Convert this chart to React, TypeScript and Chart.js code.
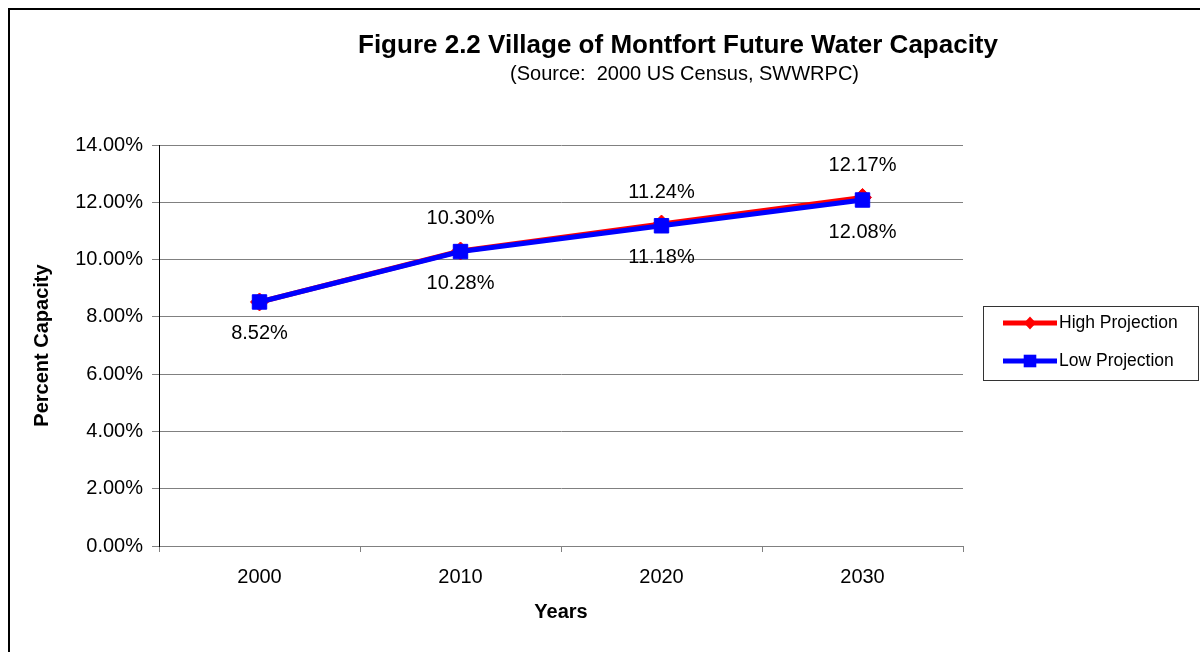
import React, { useEffect, useRef } from 'react';
import { Chart, registerables } from 'chart.js';

Chart.register(...registerables);

const FONT = '"Liberation Sans", Arial, sans-serif';

const categories = ['2000', '2010', '2020', '2030'];
const highProjection = [8.52, 10.3, 11.24, 12.17];
const lowProjection = [8.52, 10.28, 11.18, 12.08];
const seriesNames = ['High Projection', 'Low Projection'];
const yTicks = { min: 0, max: 14, step: 2 };
const titleText = 'Figure 2.2 Village of Montfort Future Water Capacity';
const subtitleText = '(Source:  2000 US Census, SWWRPC)';
const xTitle = 'Years';
const yTitle = 'Percent Capacity';

const fmt = (v: number) => v.toFixed(2) + '%';

const decorPlugin = {
  id: 'decor',
  afterDraw(chart: any) {
    const ctx = chart.ctx as CanvasRenderingContext2D;
    ctx.save();
    // outer border (left & top visible)
    ctx.strokeStyle = '#000';
    ctx.lineWidth = 2;
    ctx.beginPath();
    ctx.moveTo(9, 700);
    ctx.lineTo(9, 9);
    ctx.lineTo(1400, 9);
    ctx.stroke();

    // titles
    ctx.fillStyle = '#000';
    ctx.textAlign = 'center';
    ctx.textBaseline = 'alphabetic';
    ctx.font = `bold 26px ${FONT}`;
    ctx.fillText(titleText, 678, 53);
    ctx.font = `20px ${FONT}`;
    ctx.fillText(subtitleText, 684.5, 80);

    // data labels
    const mh = chart.getDatasetMeta(0);
    const ml = chart.getDatasetMeta(1);
    const dh = chart.data.datasets[0].data as number[];
    const dl = chart.data.datasets[1].data as number[];
    ctx.textBaseline = 'middle';
    ctx.font = `20px ${FONT}`;
    for (let i = 0; i < dl.length; i++) {
      const pl = ml.data[i];
      ctx.fillText(fmt(dl[i]), pl.x, pl.y + 32);
      if (dh[i] !== dl[i]) {
        const ph = mh.data[i];
        ctx.fillText(fmt(dh[i]), ph.x, ph.y - 32);
      }
    }

    // legend
    ctx.strokeStyle = '#333';
    ctx.lineWidth = 1;
    ctx.strokeRect(983.5, 306.5, 215, 74);
    const rows = [323, 361];
    chart.data.datasets.forEach((ds: any, i: number) => {
      const y = rows[i];
      ctx.strokeStyle = ds.borderColor;
      ctx.fillStyle = ds.borderColor;
      ctx.lineWidth = 5;
      ctx.beginPath();
      ctx.moveTo(1003, y);
      ctx.lineTo(1057, y);
      ctx.stroke();
      ctx.beginPath();
      if (ds.pointStyle === 'rectRot') {
        ctx.moveTo(1030 - 6, y);
        ctx.lineTo(1030, y - 6.5);
        ctx.lineTo(1030 + 6, y);
        ctx.lineTo(1030, y + 6.5);
        ctx.closePath();
      } else {
        ctx.rect(1030 - 6.3, y - 6.3, 12.6, 12.6);
      }
      ctx.fill();
      ctx.fillStyle = '#000';
      ctx.textAlign = 'left';
      ctx.textBaseline = 'middle';
      ctx.font = `17.5px ${FONT}`;
      ctx.fillText(ds.label, 1059, y);
    });
    ctx.restore();
  },
};

export default function App() {
  const ref = useRef<HTMLCanvasElement | null>(null);
  useEffect(() => {
    if (!ref.current) return;
    const chart = new Chart(ref.current, {
      type: 'line',
      data: {
        labels: categories,
        datasets: [
          {
            label: seriesNames[0],
            data: highProjection,
            borderColor: '#ff0000',
            backgroundColor: '#ff0000',
            borderWidth: 5,
            pointStyle: 'rectRot',
            pointRadius: 9,
            pointBorderWidth: 1,
            tension: 0,
            order: 2,
          },
          {
            label: seriesNames[1],
            data: lowProjection,
            borderColor: '#0000ff',
            backgroundColor: '#0000ff',
            borderWidth: 5,
            pointStyle: 'rect',
            pointRadius: 10.2,
            pointBorderWidth: 1,
            tension: 0,
            order: 1,
          },
        ],
      },
      options: {
        responsive: false,
        animation: false,
        layout: { padding: { left: 0, top: 145, right: 237, bottom: 0 } },
        plugins: {
          legend: { display: false },
          title: { display: false },
          tooltip: { enabled: false },
        },
        scales: {
          x: {
            type: 'category',
            offset: true,
            grid: {
              display: true,
              drawOnChartArea: false,
              drawTicks: true,
              tickLength: 6,
              color: '#808080',
              offset: true,
            },
            border: { display: true, color: '#808080', width: 1 },
            ticks: { padding: 13, color: '#000', font: { family: FONT, size: 20 }, maxRotation: 0 },
            title: {
              display: true,
              text: xTitle,
              color: '#000',
              font: { family: FONT, size: 20, weight: 'bold' },
              padding: { top: 0, bottom: 28 },
            },
            afterFit(scale: any) {
              scale.height = 106;
            },
          },
          y: {
            min: yTicks.min,
            max: yTicks.max,
            ticks: {
              stepSize: yTicks.step,
              padding: 9,
              color: '#000',
              font: { family: FONT, size: 20 },
              callback: (v: any) => fmt(Number(v)),
            },
            grid: { color: '#808080', tickLength: 7, tickColor: '#808080' },
            border: { display: true, color: '#000', width: 1 },
            title: {
              display: true,
              text: yTitle,
              color: '#000',
              font: { family: FONT, size: 20, weight: 'bold' },
              padding: { top: 30.5, bottom: 0 },
            },
            afterFit(scale: any) {
              scale.width = 159;
            },
          },
        },
      },
      plugins: [decorPlugin],
    } as any);
    return () => chart.destroy();
  }, []);
  return (
    <div style={{ position: 'fixed', left: 0, top: 0, width: 1200, height: 652, background: '#fff' }}>
      <canvas ref={ref} width={1200} height={652} style={{ width: 1200, height: 652, display: 'block' }} />
    </div>
  );
}
